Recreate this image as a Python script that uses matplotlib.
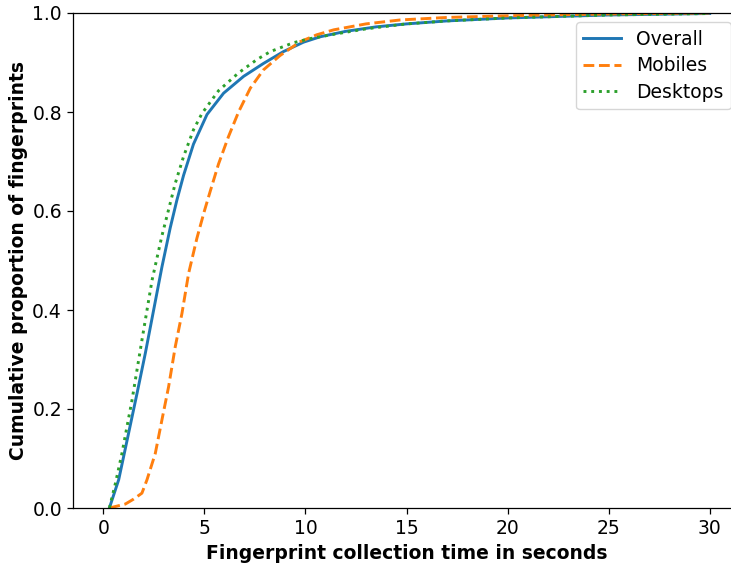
import matplotlib
matplotlib.use("Agg")
import matplotlib.pyplot as plt

overall_x = [0.3, 0.76, 1.25, 1.67, 2.08, 2.49, 2.9, 3.31, 3.64, 3.97, 4.46, 5.13, 5.95, 6.94, 7.92, 8.91, 9.9, 10.73, 12, 13.5, 15, 17, 20, 25, 30]
overall_y = [0, 0.057, 0.151, 0.232, 0.313, 0.40, 0.487, 0.566, 0.622, 0.672, 0.735, 0.795, 0.838, 0.872, 0.898, 0.922, 0.941, 0.952, 0.963, 0.972, 0.978, 0.984, 0.99, 0.996, 0.999]

mobile_x = [0.3, 1.09, 1.5, 1.91, 2.16, 2.57, 2.9, 3.23, 3.56, 3.89, 4.22, 4.63, 5.0, 5.29, 5.7, 6.19, 6.69, 7.27, 7.92, 8.74, 9.74, 10.56, 11.4, 13, 14.7, 17, 19.6, 22, 25, 30]
mobile_y = [0, 0.008, 0.018, 0.03, 0.057, 0.11, 0.178, 0.245, 0.326, 0.393, 0.474, 0.545, 0.60, 0.64, 0.695, 0.75, 0.80, 0.848, 0.885, 0.914, 0.942, 0.956, 0.966, 0.978, 0.986, 0.991, 0.994, 0.996, 0.998, 1.0]

desktop_x = [0.3, 0.6, 0.92, 1.42, 1.91, 2.41, 2.9, 3.15, 3.56, 3.97, 4.46, 4.88, 5.7, 6.69, 7.6, 8.26, 9.41, 10.2, 11.4, 13, 15, 17, 20, 25, 30]
desktop_y = [0, 0.05, 0.11, 0.218, 0.339, 0.46, 0.55, 0.59, 0.656, 0.71, 0.764, 0.797, 0.843, 0.879, 0.906, 0.922, 0.940, 0.948, 0.957, 0.968, 0.978, 0.984, 0.99, 0.996, 0.999]

labels = ["Overall", "Mobiles", "Desktops"]

fs = 13.5
fig = plt.figure(figsize=(7.31, 5.68), dpi=100)
ax = fig.add_axes([73/731, 60/568, 667/731, 495/568])
ax.plot(overall_x, overall_y, color="#1f77b4", lw=2.1, ls="-", label=labels[0])
ax.plot(mobile_x, mobile_y, color="#ff7f0e", lw=2.1, ls="--", label=labels[1])
ax.plot(desktop_x, desktop_y, color="#2ca02c", lw=2.1, ls=":", label=labels[2])
ax.set_xlim(-1.5, 31.5)
ax.set_ylim(0, 1.0)
ax.spines["right"].set_visible(False)
for s in ax.spines.values():
    s.set_linewidth(0.9)
ax.tick_params(labelsize=fs, length=4, width=0.9, pad=4)
ax.set_xlabel("Fingerprint collection time in seconds", fontsize=fs, fontweight="bold", labelpad=4.5)
ax.set_ylabel("Cumulative proportion of fingerprints", fontsize=fs, fontweight="bold", labelpad=3)
ax.legend(loc="upper right", fontsize=fs, labelspacing=0.4)
fig.savefig("out.png", dpi=100)
